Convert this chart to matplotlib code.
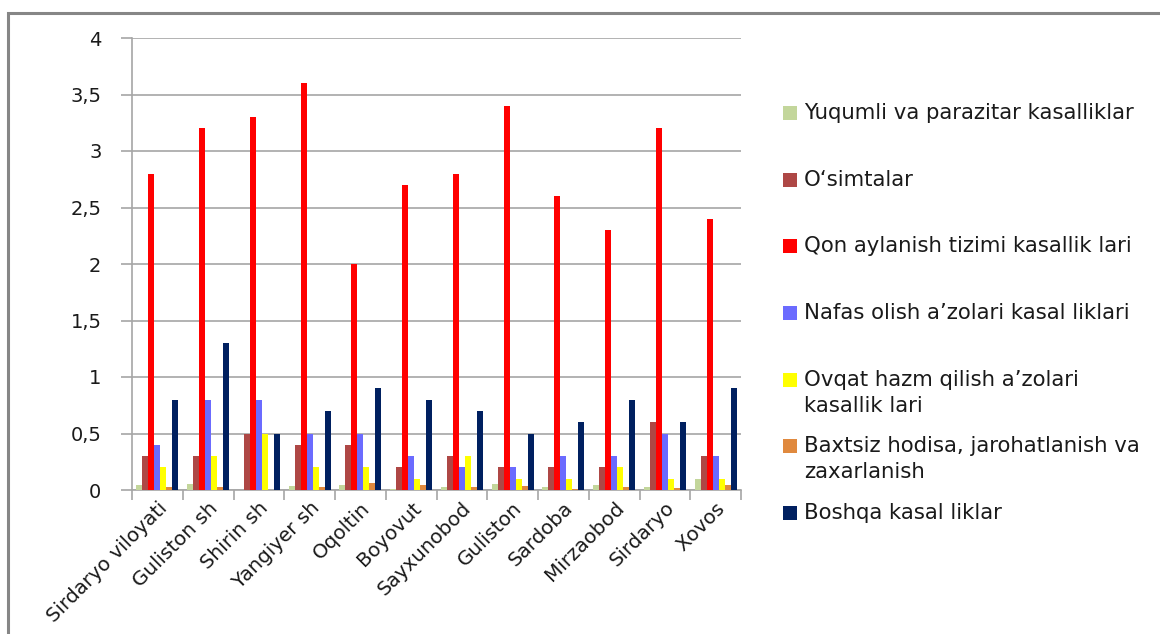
import matplotlib
matplotlib.use('Agg')
from matplotlib import pyplot
from matplotlib.patches import Rectangle
import numpy as np

matplotlib.rcParams['font.family'] = ['DejaVu Sans']

####
# data

districts = ['Sirdaryo viloyati', 'Guliston sh', 'Shirin sh', 'Yangiyer sh',
             'Oqoltin', 'Boyovut', 'Sayxunobod', 'Guliston', 'Sardoba',
             'Mirzaobod', 'Sirdaryo', 'Xovos']

series_names = ['Yuqumli va parazitar kasalliklar',
                'O\u2018simtalar',
                'Qon aylanish tizimi kasallik lari',
                'Nafas olish a\u2019zolari kasal liklari',
                'Ovqat hazm qilish a\u2019zolari\nkasallik lari',
                'Baxtsiz hodisa, jarohatlanish va\nzaxarlanish',
                'Boshqa kasal liklar']

yuqumli  = [0.04, 0.05, 0.0, 0.035, 0.045, 0.01, 0.025, 0.055, 0.03, 0.045, 0.025, 0.1]
osimta   = [0.3, 0.3, 0.5, 0.4, 0.4, 0.2, 0.3, 0.2, 0.2, 0.2, 0.6, 0.3]
qon      = [2.8, 3.2, 3.3, 3.6, 2.0, 2.7, 2.8, 3.4, 2.6, 2.3, 3.2, 2.4]
nafas    = [0.4, 0.8, 0.8, 0.5, 0.5, 0.3, 0.2, 0.2, 0.3, 0.3, 0.5, 0.3]
ovqat    = [0.2, 0.3, 0.5, 0.2, 0.2, 0.1, 0.3, 0.1, 0.1, 0.2, 0.1, 0.1]
baxtsiz  = [0.03, 0.03, 0.0, 0.03, 0.06, 0.045, 0.025, 0.035, 0.01, 0.025, 0.015, 0.045]
boshqa   = [0.8, 1.3, 0.5, 0.7, 0.9, 0.8, 0.7, 0.5, 0.6, 0.8, 0.6, 0.9]

yticks = [0, 0.5, 1, 1.5, 2, 2.5, 3, 3.5, 4]
ytick_labels = ['0', '0,5', '1', '1,5', '2', '2,5', '3', '3,5', '4']

colors = ['#C3D69B', '#AE4745', '#FF0000', '#6B6BFF', '#FFFF00', '#E0893E', '#002060']

all_series = [yuqumli, osimta, qon, nafas, ovqat, baxtsiz, boshqa]

TXT = '#1a1a1a'

############
# figure

W, H = 1160, 634
fig = pyplot.figure(figsize=(W/100, H/100), dpi=100)

# outer chart border (runs off the right and bottom edge)
fig.patches.append(Rectangle((8/W, -0.05), 1.2, 1 - 13/H + 0.05, transform=fig.transFigure,
                             fill=False, ec='#868686', lw=2.2))

ax = fig.add_axes([132/W, 1 - 490/H, (741-132)/W, (490-38)/H])

n = len(all_series)
x = np.arange(len(districts))
bw = 0.83/n
for i, (vals, c) in enumerate(zip(all_series, colors)):
    ax.bar(x - 0.415 + bw*(i+0.5), vals, width=bw, color=c, zorder=3)

ax.set_xlim(-0.5, len(districts)-0.5)
ax.set_ylim(0, 4)
ax.set_yticks(yticks)
ax.set_yticklabels(ytick_labels, fontsize=14, color=TXT)
ax.yaxis.grid(True, color='#A6A6A6', lw=1.2, zorder=0)

ax.set_xticks(x)
ax.set_xticklabels(districts, rotation=45, ha='right', va='top',
                   rotation_mode='anchor', fontsize=14.3, color=TXT)
ax.set_xticks(np.arange(len(districts)+1) - 0.5, minor=True)
ax.tick_params(axis='x', which='major', length=0, pad=6)
ax.tick_params(axis='x', which='minor', length=7, color='#A6A6A6', width=1.2)
ax.tick_params(axis='y', length=8, color='#A6A6A6', width=1.2, pad=14)

for s in ['top', 'right']:
    ax.spines[s].set_visible(False)
for s in ['left', 'bottom']:
    ax.spines[s].set_color('#A6A6A6')
    ax.spines[s].set_linewidth(1.2)

# legend, entries placed like the spreadsheet does it
LFS = 15.3
entry_y = [113, 180, 246, 313, 380, 446, 513]
for name, c, yy in zip(series_names, colors, entry_y):
    fig.patches.append(Rectangle((783/W, 1 - (yy+7)/H), 14/W, 14/H,
                                 transform=fig.transFigure, fc=c, ec='none'))
    if '\n' in name:
        fig.text(804/W, 1 - (yy-10)/H, name, fontsize=LFS, color=TXT,
                 va='top', linespacing=1.4)
    else:
        fig.text(804/W, 1 - yy/H, name, fontsize=LFS, color=TXT, va='center')

fig.savefig('out.png', dpi=100, facecolor='white')
